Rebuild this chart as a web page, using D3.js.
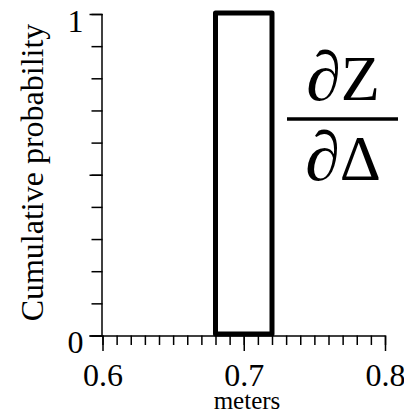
<!DOCTYPE html>
<html>
<head>
<meta charset="utf-8">
<script src="https://cdn.jsdelivr.net/npm/d3@7"></script>
<style>
  html, body { margin: 0; padding: 0; background: #fff; }
  svg { display: block; }
  svg text { font-family: "Liberation Serif", "Times New Roman", serif; fill: #000; }
  .axis path, .axis line { stroke: #000; stroke-width: 1.5; }
</style>
</head>
<body>
<svg id="chart" width="404" height="413"></svg>
<script>
// Uniform interval shown as a cumulative-probability box
const xDomain = [0.6, 0.8];
const xMajorTicks = [0.6, 0.7, 0.8];
const xMajorLabels = ["0.6", "0.7", "0.8"];
const yDomain = [0, 1];
const yMajorTicks = [0, 0.5, 1];
const yMajorLabels = ["0", "", "1"];
const intervalStart = [0.68];
const intervalEnd = [0.72];
const intervalProb = [1];
const xTitle = "meters";
const yTitle = "Cumulative probability";

const svg = d3.select("#chart");
const plotLeft = 102.5, plotRight = 385, plotTop = 14, plotBottom = 335.5;

const x = d3.scaleLinear().domain(xDomain).range([plotLeft, plotRight]);
const y = d3.scaleLinear().domain(yDomain).range([plotBottom, plotTop]);

// box for the interval
const boxes = intervalStart.map((s, i) => ({ x0: s, x1: intervalEnd[i], p: intervalProb[i] }));
svg.selectAll("rect.box").data(boxes).enter().append("rect")
  .attr("class", "box")
  .attr("x", d => x(d.x0))
  .attr("y", d => y(d.p) - 1)
  .attr("width", d => x(d.x1) - x(d.x0))
  .attr("height", d => y(0) - y(d.p) - 0.5)
  .attr("fill", "#fff")
  .attr("stroke", "#000")
  .attr("stroke-width", 5)
  .attr("stroke-linejoin", "round");

// x axis: minor ticks every 0.01, labelled majors
const xMinor = svg.append("g").attr("class", "axis")
  .attr("transform", `translate(0,${plotBottom})`)
  .call(d3.axisBottom(x).ticks(20).tickSize(9.5).tickSizeOuter(0).tickFormat(""));
xMinor.select(".domain").attr("d", `M${plotLeft - 13},0.5H${plotRight}`);

const xMajor = svg.append("g").attr("class", "axis")
  .attr("transform", `translate(0,${plotBottom})`)
  .call(d3.axisBottom(x).tickValues(xMajorTicks).tickSize(15.5).tickSizeOuter(0)
    .tickFormat((d, i) => xMajorLabels[i]));
xMajor.attr("font-family", null);
xMajor.select(".domain").remove();
xMajor.selectAll("text")
  .attr("y", 50).attr("dy", 0)
  .attr("font-size", 32);

// y axis: minor ticks every 0.1, longer ticks at 0, 0.5 and 1
const yMinor = svg.append("g").attr("class", "axis")
  .attr("transform", `translate(${plotLeft},0)`)
  .call(d3.axisLeft(y).ticks(10).tickSize(11).tickSizeOuter(0).tickFormat(""));
yMinor.select(".domain").attr("d", `M-0.5,${plotTop}V${plotBottom}`);

const yMajor = svg.append("g").attr("class", "axis")
  .attr("transform", `translate(${plotLeft},0)`)
  .call(d3.axisLeft(y).tickValues(yMajorTicks).tickSize(13).tickSizeOuter(0)
    .tickFormat((d, i) => yMajorLabels[i]));
yMajor.attr("font-family", null);
yMajor.select(".domain").remove();
yMajor.selectAll("text")
  .attr("x", -19).attr("dy", 17)
  .attr("font-size", 32);

// axis titles
svg.append("text")
  .attr("x", 247).attr("y", 409)
  .attr("text-anchor", "middle")
  .attr("font-size", 25)
  .text(xTitle);

svg.append("text")
  .attr("transform", "translate(43,172.5) rotate(-90)")
  .attr("text-anchor", "middle")
  .attr("font-size", 32)
  .text(yTitle);

// partial derivative annotation
const frac = svg.append("g").attr("transform", "translate(343,0)");
const num = frac.append("text")
  .attr("y", 100).attr("text-anchor", "middle")
  .attr("font-size", 64);
num.append("tspan").attr("font-size", 70).text("\u2202");
num.append("tspan").text("Z");
frac.append("line")
  .attr("x1", -56).attr("x2", 55)
  .attr("y1", 119).attr("y2", 119)
  .attr("stroke", "#000").attr("stroke-width", 3.5);
const den = frac.append("text")
  .attr("y", 180).attr("text-anchor", "middle")
  .attr("font-size", 64);
den.append("tspan").attr("font-size", 70).text("\u2202");
den.append("tspan").text("\u0394");
</script>
</body>
</html>
